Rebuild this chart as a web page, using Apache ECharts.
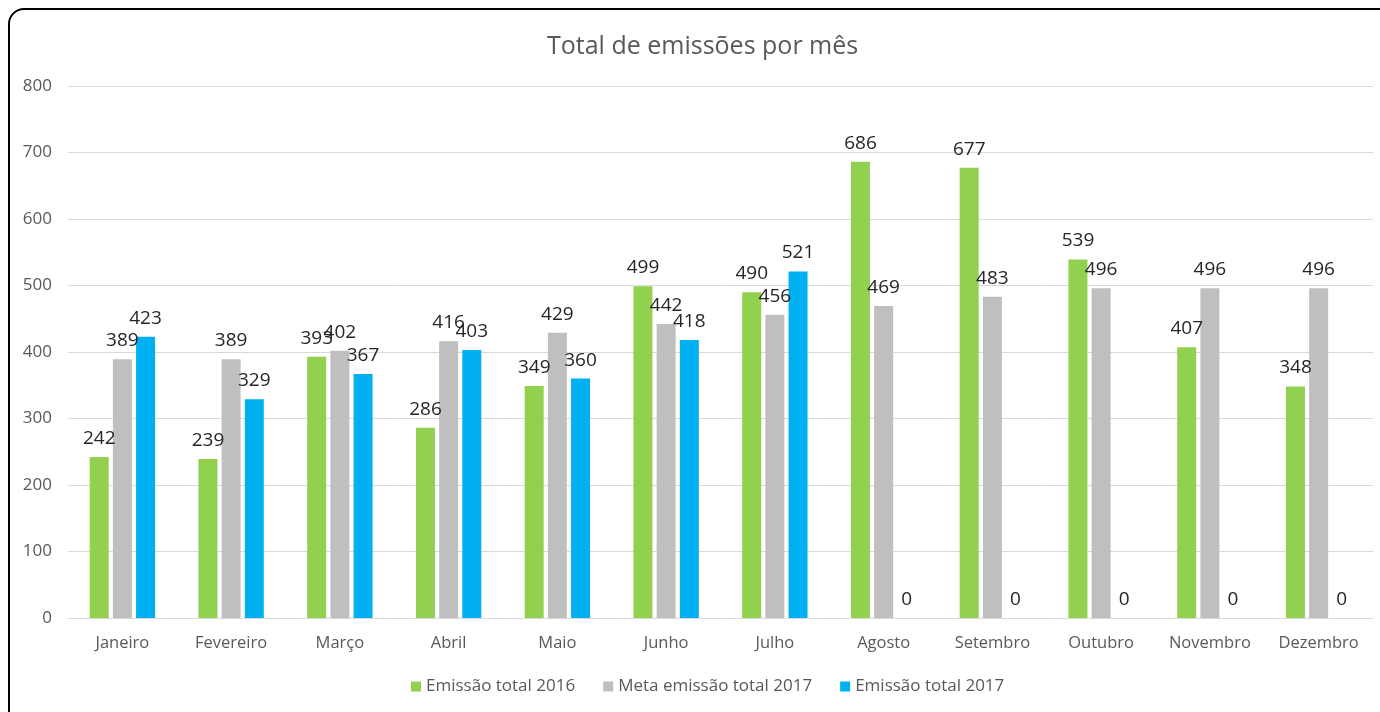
<!DOCTYPE html>
<html>
<head>
<meta charset="utf-8">
<script src="https://cdn.jsdelivr.net/npm/echarts@6/dist/echarts.min.js"></script>
<style>
  html, body { margin: 0; padding: 0; background: #fff; overflow: hidden; }
  #frame {
    position: absolute; left: 8px; top: 8px; width: 1400px; height: 720px;
    border: 2px solid #000; border-radius: 16px; box-sizing: border-box;
  }
  #chart { position: absolute; left: 0; top: 0; width: 1380px; height: 712px; }
</style>
</head>
<body>
<div id="frame"></div>
<div id="chart"></div>
<script>
const months = ["Janeiro", "Fevereiro", "Março", "Abril", "Maio", "Junho",
  "Julho", "Agosto", "Setembro", "Outubro", "Novembro", "Dezembro"];
const emissao2016 = [242, 239, 393, 286, 349, 499, 490, 686, 677, 539, 407, 348];
const meta2017 = [389, 389, 402, 416, 429, 442, 456, 469, 483, 496, 496, 496];
const emissao2017 = [423, 329, 367, 403, 360, 418, 521, 0, 0, 0, 0, 0];

const font = "Open Sans";

const barSeries = (name, data, color) => ({
  name,
  type: "bar",
  data,
  barWidth: 19,
  barGap: "22%",
  itemStyle: { color },
  label: {
    show: true,
    position: "top",
    distance: 9,
    color: "#262626",
    fontFamily: font,
    fontSize: 19,
  },
});

const chart = echarts.init(document.getElementById("chart"));
chart.setOption({
  animation: false,
  title: {
    text: "Total de emissões por mês",
    left: 542,
    top: 29,
    textStyle: { color: "#595959", fontFamily: font, fontSize: 25, fontWeight: "normal" },
  },
  legend: {
    bottom: 12,
    left: 406,
    itemWidth: 10,
    itemHeight: 10,
    itemGap: 28,
    icon: "rect",
    textStyle: { color: "#595959", fontFamily: font, fontSize: 17 },
  },
  grid: { left: 68, right: 7, top: 86, bottom: 94 },
  xAxis: {
    type: "category",
    data: months,
    axisLine: { lineStyle: { color: "#D9D9D9" } },
    axisTick: { show: false },
    axisLabel: { interval: 0, color: "#595959", fontFamily: font, fontSize: 16.5, margin: 17 },
  },
  yAxis: {
    type: "value",
    min: 0,
    max: 800,
    interval: 100,
    axisLine: { show: false },
    axisTick: { show: false },
    splitLine: { lineStyle: { color: "#D9D9D9" } },
    axisLabel: { color: "#595959", fontFamily: font, fontSize: 17, margin: 16 },
  },
  series: [
    barSeries("Emissão total 2016", emissao2016, "#92D050"),
    barSeries("Meta emissão total 2017", meta2017, "#BFBFBF"),
    barSeries("Emissão total 2017", emissao2017, "#00B0F0"),
  ],
});
</script>
</body>
</html>
